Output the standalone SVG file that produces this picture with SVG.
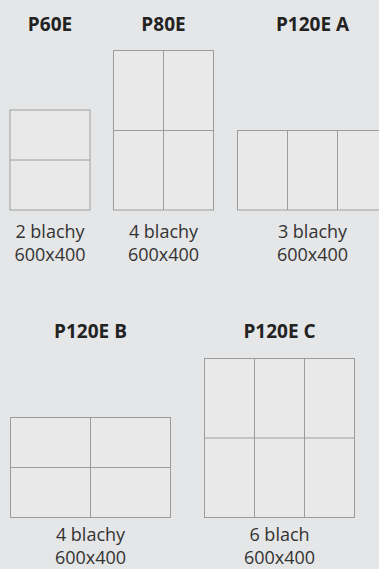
<svg xmlns="http://www.w3.org/2000/svg" width="379" height="569" viewBox="0 0 379 569">
<style>
.bg{fill:#e5e6e7}
.panel{fill:#e8e9e8;stroke:#9c9c9c;stroke-width:1}
.grid{stroke:#9c9c9c;stroke-width:1;fill:none}
.title{font-family:"Open Sans","Noto Sans",sans-serif;font-weight:700;font-size:19px;fill:#222;text-anchor:middle}
.lbl{font-family:"Open Sans","Noto Sans",sans-serif;font-size:18px;fill:#333;text-anchor:middle}
</style>
<rect class="bg" x="0" y="0" width="379" height="569"/>
<g id="p60e">
<text class="title" x="50" y="30.5">P60E</text>
<rect class="panel" x="10" y="110" width="80" height="100"/>
<path class="grid" d="M10 160H90"/>
<text class="lbl" x="50" y="237.5">2 blachy</text>
<text class="lbl" x="50" y="260.5">600x400</text>
</g>
<g id="p80e">
<text class="title" x="163.5" y="30.5">P80E</text>
<rect class="panel" x="113.5" y="50.5" width="100" height="159.5"/>
<path class="grid" d="M113.5 130.5H213.5M163.5 50.5V210"/>
<text class="lbl" x="163.5" y="237.5">4 blachy</text>
<text class="lbl" x="163.5" y="260.5">600x400</text>
</g>
<g id="p120ea">
<text class="title" x="312.5" y="30.5">P120E A</text>
<rect class="panel" x="237.5" y="130.5" width="150" height="79.5"/>
<path class="grid" d="M287.5 130.5V210M337.5 130.5V210"/>
<text class="lbl" x="312.5" y="237.5">3 blachy</text>
<text class="lbl" x="312.5" y="260.5">600x400</text>
</g>
<g id="p120eb">
<text class="title" x="90.5" y="337.5">P120E B</text>
<rect class="panel" x="10.5" y="417.5" width="160" height="100"/>
<path class="grid" d="M10.5 467.5H170.5M90.5 417.5V517.5"/>
<text class="lbl" x="90.5" y="540.5">4 blachy</text>
<text class="lbl" x="90.5" y="564">600x400</text>
</g>
<g id="p120ec">
<text class="title" x="279.5" y="337.5">P120E C</text>
<rect class="panel" x="204.5" y="358.5" width="150" height="159"/>
<path class="grid" d="M204.5 438H354.5M254.5 358.5V517.5M304.5 358.5V517.5"/>
<text class="lbl" x="279.5" y="540.5">6 blach</text>
<text class="lbl" x="279.5" y="564">600x400</text>
</g>
<g id="connectors"/>
</svg>
